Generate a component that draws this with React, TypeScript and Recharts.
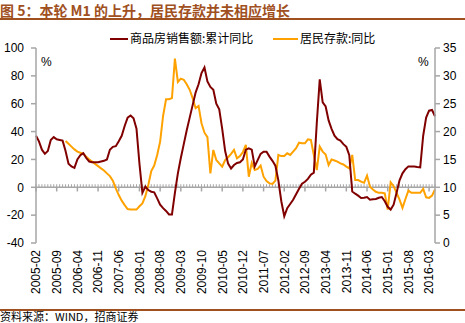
import React from 'react';
import { LineChart, Line, XAxis, YAxis, ReferenceLine } from 'recharts';

// Categories: monthly, 2005-02 .. 2016-05
const START_YEAR = 2005;
const START_MONTH = 2;
const MONTH_COUNT = 136;
const months: string[] = Array.from({ length: MONTH_COUNT }, (_, i) => {
  const m = START_MONTH - 1 + i;
  const y = START_YEAR + Math.floor(m / 12);
  const mm = (m % 12) + 1;
  return `${y}-${String(mm).padStart(2, '0')}`;
});

// 商品房销售额:累计同比 (left axis, %)
const salesYoY: (number | null)[] = [
  37, 33, 27, 24, 26, 34, 36, 34.5, 34, 33.5,
  26, 17, 15, 14, 20, 23, 24.5, 21, 18.5, 18,
  18, 18, 18.5, 19, 20, 27, 29, 29.5, 33, 37,
  44, 50, 51.5, 49.5, 42, 17, -4, 0.5, -2, -3.2,
  -3.6, -8, -12.5, -15, -17, -19.5, -19.5, -4, 10, 21,
  31, 41, 50, 59, 68, 74, 82, 86, 76, 72,
  70, 60, 56, 42, 26, 17, 13.5, 16, 17.5, 18,
  20, 27, 28, 27, 15, 19.5, 24, 25.5, 25.5, 22,
  19, 15.5, 5, -10, -20.8, -15, -12, -9, -5, -1,
  2.5, 4, 6, 9, 10.5, 46, 77.5, 61, 58, 48,
  42, 37, 34.5, 33.5, 31, 29, 23, -3, -4.6, -6,
  -7.7, -7.5, -7, -8.9, -8.6, -8.4, -7.5, -7, -10, -14,
  -16, -12.5, -4, 5, 10, 13, 15, 15, 15, 14.6,
  14.3, 37, 50, 55, 55.5, 51,
];

// 居民存款:同比 (right axis, %)
const depositYoY: (number | null)[] = [
  null, null, null, null, null, null, null, null, null, null,
  18.3, 17.8, 17.3, 16.8, 16.4, 16.2, 16.0, 15.5, 15.0, 14.6,
  14.2, 13.8, 13.4, 13.0, 12.5, 12.0, 11.2, 9.8, 8.6, 7.6,
  6.8, 6.1, 6.0, 6.0, 6.0, 6.6, 7.1, 8.4, 10.4, 12.9,
  13.9, 15.8, 18.2, 22.8, 25.8, 25.8, 26.0, 33.1, 28.9, 29.5,
  29.3, 28.5, 27.5, 26.0, 24.2, 24.6, 21.5, 19.8, 19.0, 12.5,
  16.7, 14.9, 14.3, 13.7, 14.9, 15.4, 16.0, 16.7, 15.2, 15.6,
  16.3, 17.6, 11.9, 14.4, 13.1, 13.3, 13.9, 11.9, 11.1, 10.7,
  10.6, 11.2, 15.8, 15.6, 15.6, 16.1, 15.8, 16.4, 17.0, 18.0,
  17.9, 17.9, 18.6, 18.5, 15.8, 13.1, 17.3, 16.4, 15.9, 14.0,
  15.0, 14.8, 14.6, 14.3, 14.1, 13.7, 13.4, 15.8, 11.3, 11.3,
  11.0, 10.8, 12.1, 10.1, 9.6, 9.2, 9.0, 9.0, 8.9, 6.0,
  10.9, 10.2, 9.0, 7.8, 6.3, 7.9, 9.4, 9.0, 9.0, 9.0,
  9.0, 9.7, 8.2, 8.1, 8.5, 9.6,
];

const leftTicks = [-40, -20, 0, 20, 40, 60, 80, 100];
const rightTicks = [0, 5, 10, 15, 20, 25, 30, 35];
const LABEL_STEP = 7;
const majorTickMonths = months.filter((_, i) => i % LABEL_STEP === 0);

const TITLE = '图 5：本轮 M1 的上升，居民存款并未相应增长';
const SOURCE = '资料来源：WIND，招商证券';
const SERIES_SALES = '商品房销售额:累计同比';
const SERIES_DEPOSIT = '居民存款:同比';

const data = months.map((m, i) => ({ month: m, sales: salesYoY[i], deposit: depositYoY[i] }));

const RED = '#800000';
const ORANGE = '#FFA200';
const BROWN = '#A0501E';
const GRAY = '#A6A6A6';
const NUM_FONT = '"Liberation Sans", Arial, sans-serif';
const CJK_FONT = '"Noto Sans CJK SC", "Noto Sans", sans-serif';

const XTick = (props: any) => {
  const { x, y, payload } = props;
  const ty = y + 7;
  return (
    <text
      x={x}
      y={ty}
      transform={`rotate(-90 ${x} ${ty})`}
      textAnchor="end"
      dy="0.36em"
      fontSize={12}
      fill="#000"
      fontFamily={NUM_FONT}
    >
      {payload.value}
    </text>
  );
};

export default function App() {
  return (
    <div style={{ position: 'absolute', left: 0, top: 0, width: 465, height: 323, background: '#fff' }}>
      <LineChart
        width={465}
        height={323}
        data={data}
        margin={{ top: 48, right: 0, bottom: 40, left: 0 }}
      >
        <XAxis
          dataKey="month"
          interval={LABEL_STEP - 1}
          axisLine={false}
          tickLine={false}
          tickSize={0}
          tickMargin={0}
          height={40}
          tick={<XTick />}
        />
        <YAxis
          yAxisId="left"
          orientation="left"
          width={36}
          domain={[-40, 100]}
          ticks={leftTicks}
          allowDataOverflow
          axisLine={{ stroke: GRAY, strokeWidth: 1.5 }}
          tickLine={{ stroke: GRAY, strokeWidth: 1.5 }}
          tickSize={5}
          tickMargin={7}
          tick={{ fontSize: 12, fill: '#000', fontFamily: NUM_FONT }}
        />
        <YAxis
          yAxisId="right"
          orientation="right"
          width={30}
          domain={[0, 35]}
          ticks={rightTicks}
          allowDataOverflow
          axisLine={{ stroke: GRAY, strokeWidth: 1.5 }}
          tickLine={{ stroke: GRAY, strokeWidth: 1.5 }}
          tickSize={5}
          tickMargin={3}
          tick={{ fontSize: 12, fill: '#000', fontFamily: NUM_FONT }}
        />
        <ReferenceLine yAxisId="left" y={0} stroke={GRAY} strokeWidth={1.5} />
        {months.map((m) => (
          <ReferenceLine
            key={'mn' + m}
            yAxisId="left"
            segment={[{ x: m, y: 0 }, { x: m, y: 2.2 }]}
            stroke={GRAY}
            strokeWidth={1}
          />
        ))}
        {majorTickMonths.map((m) => (
          <ReferenceLine
            key={'mj' + m}
            yAxisId="left"
            segment={[{ x: m, y: 0 }, { x: m, y: -3 }]}
            stroke={GRAY}
            strokeWidth={1.5}
          />
        ))}
        <Line
          yAxisId="right"
          type="linear"
          dataKey="deposit"
          stroke={ORANGE}
          strokeWidth={2}
          dot={false}
          isAnimationActive={false}
        />
        <Line
          yAxisId="left"
          type="linear"
          dataKey="sales"
          stroke={RED}
          strokeWidth={2}
          dot={false}
          isAnimationActive={false}
        />
      </LineChart>

      {/* Title */}
      <div style={{ position: 'absolute', left: 0, top: 0, fontFamily: CJK_FONT, fontWeight: 700, fontSize: 14, lineHeight: '20px', color: BROWN, whiteSpace: 'nowrap' }}>
        {TITLE}
      </div>
      <div style={{ position: 'absolute', left: 0, top: 18, width: 465, height: 1.5, background: BROWN }} />

      {/* Legend */}
      <div style={{ position: 'absolute', left: 110, top: 38, width: 18, height: 2, background: RED }} />
      <div style={{ position: 'absolute', left: 130, top: 31, fontFamily: CJK_FONT, fontSize: 12, lineHeight: '14px', color: '#000', whiteSpace: 'nowrap' }}>
        {SERIES_SALES}
      </div>
      <div style={{ position: 'absolute', left: 273, top: 38, width: 25, height: 2, background: ORANGE }} />
      <div style={{ position: 'absolute', left: 300, top: 31, fontFamily: CJK_FONT, fontSize: 12, lineHeight: '14px', color: '#000', whiteSpace: 'nowrap' }}>
        {SERIES_DEPOSIT}
      </div>

      {/* Percent units */}
      <div style={{ position: 'absolute', left: 41, top: 55, fontFamily: NUM_FONT, fontSize: 12, lineHeight: '14px', color: '#000' }}>%</div>
      <div style={{ position: 'absolute', left: 418, top: 55, fontFamily: NUM_FONT, fontSize: 12, lineHeight: '14px', color: '#000' }}>%</div>

      {/* Source */}
      <div style={{ position: 'absolute', left: 0, top: 309, width: 465, height: 1.5, background: BROWN }} />
      <div style={{ position: 'absolute', left: 0, top: 310, fontFamily: CJK_FONT, fontSize: 11, lineHeight: '12px', color: '#000', whiteSpace: 'nowrap' }}>
        {SOURCE}
      </div>
    </div>
  );
}
